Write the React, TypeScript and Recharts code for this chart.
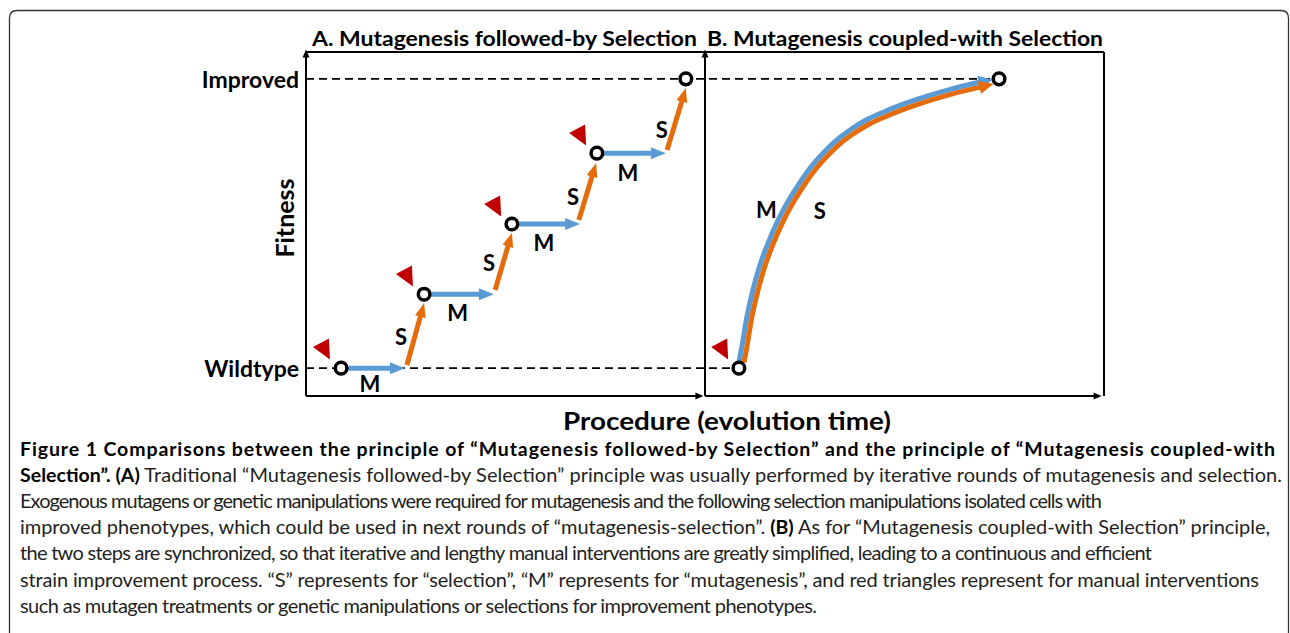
import React from 'react';
import { ComposedChart, Line, Scatter, XAxis, YAxis, ReferenceLine, Customized } from 'recharts';

// ---------- data (x: 0-100 panel A, 100-200 panel B; y: 0-100 fitness) ----------
const yTickValues = [8.1, 92.2];
const yTickLabels = ['Wildtype', 'Improved'];

const stepCirclesX = [8.8, 29.6, 51.6, 72.9, 95.2];
const stepCirclesY = [8.1, 29.6, 50.0, 70.6, 92.2];

const mTipX = [24.8, 47.1, 68.7, 90.2];
const sStartX = [25.3, 47.4, 68.4, 90.5];
const sStartY = [9.0, 30.8, 51.2, 71.5];
const sEndX = [29.6, 51.6, 72.7, 95.2];
const sEndY = [27.0, 47.4, 67.7, 89.5];

const coupledCirclesX = [108.5, 173.7];
const coupledCirclesY = [8.1, 92.2];

const blueCurveX = [108.53, 109.15, 110.42, 111.92, 113.69, 115.71, 118.23, 120.76, 123.29, 126.07, 129.11, 132.41, 135.98, 140.05, 144.36, 148.65, 152.93, 161.24, 169.53];
const blueCurveY = [10.01, 13.78, 22.52, 30.41, 37.72, 44.17, 50.89, 56.46, 61.16, 65.85, 69.97, 73.8, 77.05, 80.0, 82.36, 84.4, 86.16, 89.07, 91.41];
const orangeCurveX = [109.77, 110.39, 111.64, 113.14, 114.89, 116.87, 119.37, 121.84, 124.33, 127.07, 130.03, 133.25, 136.7, 140.65, 144.86, 149.09, 153.33, 161.56, 169.81];
const orangeCurveY = [9.75, 13.54, 22.24, 30.05, 37.28, 43.63, 50.27, 55.74, 60.36, 64.97, 68.99, 72.72, 75.85, 78.72, 81.02, 83.04, 84.78, 87.67, 89.99];
const blueTip = { x: 172.2, y: 91.9 };
const orangeTip = { x: 172.4, y: 90.8 };

const triangleX = [4.5, 25.3, 47.4, 68.7, 104.3];
const triangleY = [13.9, 35.1, 55.4, 76.1, 13.9];

const mLabelX = [16.0, 38.0, 59.6, 80.7, 115.4];
const mLabelY = [3.5, 24.4, 44.5, 65.1, 54.1];
const sLabelX = [23.8, 45.9, 66.9, 89.2, 128.8];
const sLabelY = [17.2, 38.7, 58.1, 77.6, 53.8];

const captionLines: { t: string; b?: boolean }[][] = [
  [{ t: 'Figure 1 Comparisons between the principle of \u201cMutagenesis followed-by Selection\u201d and the principle of \u201cMutagenesis coupled-with', b: true }],
  [{ t: 'Selection\u201d. (A)', b: true }, { t: ' Traditional \u201cMutagenesis followed-by Selection\u201d principle was usually performed by iterative rounds of mutagenesis and selection.' }],
  [{ t: 'Exogenous mutagens or genetic manipulations were required for mutagenesis and the following selection manipulations isolated cells with' }],
  [{ t: 'improved phenotypes, which could be used in next rounds of \u201cmutagenesis-selection\u201d. ' }, { t: '(B)', b: true }, { t: ' As for \u201cMutagenesis coupled-with Selection\u201d principle,' }],
  [{ t: 'the two steps are synchronized, so that iterative and lengthy manual interventions are greatly simplified, leading to a continuous and efficient' }],
  [{ t: 'strain improvement process. \u201cS\u201d represents for \u201cselection\u201d, \u201cM\u201d represents for \u201cmutagenesis\u201d, and red triangles represent for manual interventions' }],
  [{ t: 'such as mutagen treatments or genetic manipulations or selections for improvement phenotypes.' }],
];
const captionLineEnds = [1275, 1282, 1102, 1270, 1152, 1259, 817];

// ---------- styling ----------
const BLUE = '#5B9BD5';
const ORANGE = '#E46C0A';
const RED = '#C00000';
const FONT = 'Lato, "Noto Sans", sans-serif';

const zip = (xs: number[], ys: number[]) => xs.map((x, i) => ({ x, y: ys[i] }));

const stepCircles = zip(stepCirclesX, stepCirclesY);
const coupledCircles = zip(coupledCirclesX, coupledCirclesY);
const blueCurve = zip(blueCurveX, blueCurveY);
const orangeCurve = zip(orangeCurveX, orangeCurveY);
const triangles = zip(triangleX, triangleY);
const labels = [
  ...zip(mLabelX, mLabelY).map((p) => ({ ...p, label: 'M' })),
  ...zip(sLabelX, sLabelY).map((p) => ({ ...p, label: 'S' })),
];

const makeArrow = (color: string, shaft: number, headLen: number, headW: number) => (props: any) => {
  const x1 = Number(props.x1), y1 = Number(props.y1), x2 = Number(props.x2), y2 = Number(props.y2);
  const dx = x2 - x1, dy = y2 - y1;
  const L = Math.hypot(dx, dy) || 1;
  const ux = dx / L, uy = dy / L;
  const bx = x2 - ux * headLen, by = y2 - uy * headLen;
  const px = -uy, py = ux;
  return (
    <g>
      {shaft > 0 && (
        <line x1={x1} y1={y1} x2={bx + ux * 1.5} y2={by + uy * 1.5} stroke={color} strokeWidth={shaft} />
      )}
      <polygon
        points={`${x2},${y2} ${bx + (px * headW) / 2},${by + (py * headW) / 2} ${bx - (px * headW) / 2},${by - (py * headW) / 2}`}
        fill={color}
      />
    </g>
  );
};

const blueArrow = makeArrow(BLUE, 5, 15, 12);
const orangeArrow = makeArrow(ORANGE, 5, 14, 11);
const blueHead = makeArrow(BLUE, 0, 15, 13);
const orangeHead = makeArrow(ORANGE, 0, 15, 13);
const axisArrow = makeArrow('#000', 2, 8, 7);

const circleShape = (p: any) => (
  <circle cx={p.cx} cy={p.cy} r={5.8} fill="#fff" stroke="#000" strokeWidth={3.5} />
);
const triangleShape = (p: any) => (
  <polygon
    points={`${p.cx - 11},${p.cy - 1.3} ${p.cx + 5},${p.cy - 9.8} ${p.cx + 6},${p.cy + 11.2}`}
    fill={RED}
  />
);
const labelShape = (p: any) => (
  <text
    x={p.cx}
    y={p.cy}
    textAnchor="middle"
    dominantBaseline="central"
    fontFamily={FONT}
    fontWeight={700}
    fontSize={22}
    fill="#000"
  >
    {p.payload.label}
  </text>
);

const YTick = (props: any) => {
  const { x, y, payload } = props;
  const i = yTickValues.indexOf(payload.value);
  return (
    <text x={x + 1} y={y} textAnchor="end" dominantBaseline="central" fontFamily={FONT} fontWeight={700} fontSize={23} fill="#000">
      {yTickLabels[i]}
    </text>
  );
};

const Overlay = () => (
  <g>
    <path
      d="M9.5,640 L9.5,18 Q9.5,10.5 17,10.5 L1281,10.5 Q1288.5,10.5 1288.5,18 L1288.5,640"
      fill="none"
      stroke="#333"
      strokeWidth={1.3}
    />
    <text x={312} y={46} fontFamily={FONT} fontWeight={700} fontSize={21} textLength={385} lengthAdjust="spacingAndGlyphs" fill="#000">
      A. Mutagenesis followed-by Selection
    </text>
    <text x={707} y={46} fontFamily={FONT} fontWeight={700} fontSize={21} textLength={396} lengthAdjust="spacingAndGlyphs" fill="#000">
      B. Mutagenesis coupled-with Selection
    </text>
    <text
      x={294}
      y={218}
      transform="rotate(-90, 294, 218)"
      textAnchor="middle"
      fontFamily={FONT}
      fontWeight={700}
      fontSize={25}
      fill="#000"
    >
      Fitness
    </text>
    <text x={563} y={430} fontFamily={FONT} fontWeight={700} fontSize={25} textLength={328} lengthAdjust="spacingAndGlyphs" fill="#000">
      Procedure (evolution time)
    </text>
    {captionLines.map((line, i) => (
      <text
        key={i}
        x={20}
        y={455.5 + i * 26.2}
        fontFamily={FONT}
        fontSize={20}
        fill="#231F20"
        textLength={captionLineEnds[i] - 20}
        lengthAdjust="spacing"
        xmlSpace="preserve"
      >
        {line.map((s, j) => (
          <tspan key={j} fontWeight={s.b ? 700 : 400} fontSize={s.b ? 19.5 : 20} fill={s.b ? '#000' : '#231F20'}>
            {s.t}
          </tspan>
        ))}
      </text>
    ))}
  </g>
);

export default function App() {
  return (
    <div style={{ position: 'absolute', left: 0, top: 0, width: 1290, height: 633, background: '#fff' }}>
      <ComposedChart width={1290} height={633} margin={{ top: 52, right: 186, bottom: 237, left: 0 }}>
        <XAxis type="number" dataKey="x" domain={[0, 200]} allowDataOverflow hide />
        <YAxis
          type="number"
          dataKey="y"
          domain={[0, 100]}
          allowDataOverflow
          ticks={yTickValues}
          tick={<YTick />}
          axisLine={false}
          tickLine={false}
          width={306}
        />
        {/* dashed reference levels */}
        <ReferenceLine
          segment={[{ x: 0, y: yTickValues[0] }, { x: coupledCirclesX[0], y: yTickValues[0] }]}
          stroke="#000"
          strokeWidth={1.6}
          strokeDasharray="8 5"
          ifOverflow="visible"
        />
        <ReferenceLine
          segment={[{ x: 0, y: yTickValues[1] }, { x: coupledCirclesX[1], y: yTickValues[1] }]}
          stroke="#000"
          strokeWidth={1.6}
          strokeDasharray="8 5"
          ifOverflow="visible"
        />
        {/* frame / axes */}
        <ReferenceLine segment={[{ x: 0, y: 100 }, { x: 200, y: 100 }]} stroke="#000" strokeWidth={2} ifOverflow="visible" />
        <ReferenceLine segment={[{ x: 200, y: 0 }, { x: 200, y: 100 }]} stroke="#000" strokeWidth={2} ifOverflow="visible" />
        <ReferenceLine segment={[{ x: 0, y: 0 }, { x: 0, y: 100.7 }]} shape={axisArrow} ifOverflow="visible" />
        <ReferenceLine segment={[{ x: 100, y: 0 }, { x: 100, y: 100.7 }]} shape={axisArrow} ifOverflow="visible" />
        <ReferenceLine segment={[{ x: 0, y: 0 }, { x: 99.6, y: 0 }]} shape={axisArrow} ifOverflow="visible" />
        <ReferenceLine segment={[{ x: 100, y: 0 }, { x: 199.4, y: 0 }]} shape={axisArrow} ifOverflow="visible" />
        {/* panel A step arrows */}
        {mTipX.map((tx, i) => (
          <ReferenceLine
            key={'m' + i}
            segment={[{ x: stepCirclesX[i] + 1.8, y: stepCirclesY[i] }, { x: tx, y: stepCirclesY[i] }]}
            shape={blueArrow}
            ifOverflow="visible"
          />
        ))}
        {sStartX.map((sx, i) => (
          <ReferenceLine
            key={'s' + i}
            segment={[{ x: sx, y: sStartY[i] }, { x: sEndX[i], y: sEndY[i] }]}
            shape={orangeArrow}
            ifOverflow="visible"
          />
        ))}
        {/* panel B coupled curve */}
        <Line data={blueCurve} dataKey="y" type="monotone" stroke={BLUE} strokeWidth={5} dot={false} activeDot={false} isAnimationActive={false} />
        <Line data={orangeCurve} dataKey="y" type="monotone" stroke={ORANGE} strokeWidth={5} dot={false} activeDot={false} isAnimationActive={false} />
        <ReferenceLine segment={[blueCurve[blueCurve.length - 1], blueTip]} shape={blueHead} ifOverflow="visible" />
        <ReferenceLine segment={[orangeCurve[orangeCurve.length - 1], orangeTip]} shape={orangeHead} ifOverflow="visible" />
        {/* markers */}
        <Scatter data={triangles} dataKey="y" shape={triangleShape} isAnimationActive={false} />
        <Scatter data={stepCircles} dataKey="y" shape={circleShape} isAnimationActive={false} />
        <Scatter data={coupledCircles} dataKey="y" shape={circleShape} isAnimationActive={false} />
        <Scatter data={labels} dataKey="y" shape={labelShape} isAnimationActive={false} />
        <Customized component={<Overlay />} />
      </ComposedChart>
    </div>
  );
}
